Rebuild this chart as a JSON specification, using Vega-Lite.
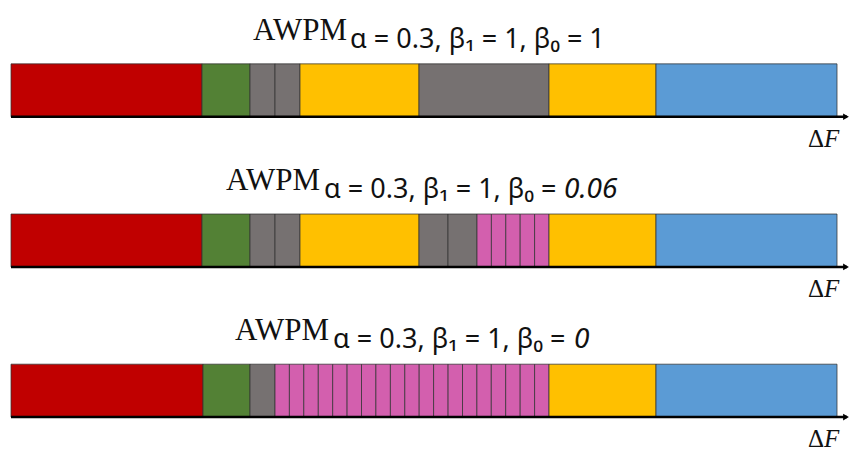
{
  "$schema": "https://vega.github.io/schema/vega-lite/v6.json",
  "width": 851,
  "height": 453,
  "autosize": {"type": "fit", "contains": "padding"},
  "padding": 0,
  "background": "white",
  "config": {"view": {"stroke": null}},
  "datasets": {
    "segments": [
      {"row": "b1", "start": 0, "end": 191, "kind": "A"},
      {"row": "b1", "start": 191, "end": 239, "kind": "B"},
      {"row": "b1", "start": 239, "end": 264, "kind": "C"},
      {"row": "b1", "start": 264, "end": 289, "kind": "C"},
      {"row": "b1", "start": 289, "end": 408, "kind": "D"},
      {"row": "b1", "start": 408, "end": 538, "kind": "C"},
      {"row": "b1", "start": 538, "end": 645, "kind": "D"},
      {"row": "b1", "start": 645, "end": 826, "kind": "F"},
      {"row": "b006", "start": 0, "end": 191, "kind": "A"},
      {"row": "b006", "start": 191, "end": 239, "kind": "B"},
      {"row": "b006", "start": 239, "end": 264, "kind": "C"},
      {"row": "b006", "start": 264, "end": 289, "kind": "C"},
      {"row": "b006", "start": 289, "end": 408, "kind": "D"},
      {"row": "b006", "start": 408, "end": 437, "kind": "C"},
      {"row": "b006", "start": 437, "end": 466, "kind": "C"},
      {"row": "b006", "start": 466, "end": 480.4, "kind": "E"},
      {"row": "b006", "start": 480.4, "end": 494.8, "kind": "E"},
      {"row": "b006", "start": 494.8, "end": 509.2, "kind": "E"},
      {"row": "b006", "start": 509.2, "end": 523.6, "kind": "E"},
      {"row": "b006", "start": 523.6, "end": 538, "kind": "E"},
      {"row": "b006", "start": 538, "end": 645, "kind": "D"},
      {"row": "b006", "start": 645, "end": 826, "kind": "F"},
      {"row": "b0", "start": 0, "end": 192, "kind": "A"},
      {"row": "b0", "start": 192, "end": 239, "kind": "B"},
      {"row": "b0", "start": 239, "end": 264, "kind": "C"},
      {"row": "b0", "start": 264, "end": 278.4, "kind": "E"},
      {"row": "b0", "start": 278.4, "end": 292.8, "kind": "E"},
      {"row": "b0", "start": 292.8, "end": 307.3, "kind": "E"},
      {"row": "b0", "start": 307.3, "end": 321.7, "kind": "E"},
      {"row": "b0", "start": 321.7, "end": 336.1, "kind": "E"},
      {"row": "b0", "start": 336.1, "end": 350.5, "kind": "E"},
      {"row": "b0", "start": 350.5, "end": 364.9, "kind": "E"},
      {"row": "b0", "start": 364.9, "end": 379.4, "kind": "E"},
      {"row": "b0", "start": 379.4, "end": 393.8, "kind": "E"},
      {"row": "b0", "start": 393.8, "end": 408.2, "kind": "E"},
      {"row": "b0", "start": 408.2, "end": 422.6, "kind": "E"},
      {"row": "b0", "start": 422.6, "end": 437.1, "kind": "E"},
      {"row": "b0", "start": 437.1, "end": 451.5, "kind": "E"},
      {"row": "b0", "start": 451.5, "end": 465.9, "kind": "E"},
      {"row": "b0", "start": 465.9, "end": 480.3, "kind": "E"},
      {"row": "b0", "start": 480.3, "end": 494.7, "kind": "E"},
      {"row": "b0", "start": 494.7, "end": 509.2, "kind": "E"},
      {"row": "b0", "start": 509.2, "end": 523.6, "kind": "E"},
      {"row": "b0", "start": 523.6, "end": 538, "kind": "E"},
      {"row": "b0", "start": 538, "end": 645, "kind": "D"},
      {"row": "b0", "start": 645, "end": 826, "kind": "F"}
    ],
    "rows": [{"row": "b1"}, {"row": "b006"}, {"row": "b0"}]
  },
  "layer": [
    {
      "data": {"name": "segments"},
      "mark": {"type": "rect", "stroke": "#333333", "strokeWidth": 1, "strokeOpacity": 0.75},
      "encoding": {
        "x": {"field": "start", "type": "quantitative", "axis": null, "scale": {"domain": [-11, 840], "nice": false, "zero": false}},
        "x2": {"field": "end"},
        "y": {"field": "row", "type": "nominal", "axis": null, "scale": {"domain": ["b1", "b006", "b0"], "paddingInner": 0.6478, "paddingOuter": 0.3289, "align": 0.6465}},
        "color": {"field": "kind", "type": "nominal", "legend": null, "scale": {"domain": ["A", "B", "C", "D", "E", "F"], "range": ["#C00000", "#538135", "#767171", "#FFC000", "#D35FAE", "#5B9BD5"]}}
      }
    },
    {
      "data": {"name": "rows"},
      "mark": {"type": "rule", "color": "#000000", "strokeWidth": 2.5},
      "encoding": {
        "x": {"datum": 0, "type": "quantitative"},
        "x2": {"datum": 836},
        "y": {"field": "row", "type": "nominal", "bandPosition": 1}
      }
    },
    {
      "data": {"name": "rows"},
      "mark": {"type": "point", "shape": "triangle-right", "filled": true, "color": "#000000", "opacity": 1, "size": 45},
      "encoding": {
        "x": {"datum": 835, "type": "quantitative"},
        "y": {"field": "row", "type": "nominal", "bandPosition": 1}
      }
    },
    {
      "data": {"name": "rows"},
      "mark": {"type": "text", "text": "Δ", "font": "Liberation Serif", "fontSize": 25, "align": "left", "baseline": "alphabetic", "dy": 30, "color": "#111111"},
      "encoding": {
        "x": {"datum": 797, "type": "quantitative"},
        "y": {"field": "row", "type": "nominal", "bandPosition": 1}
      }
    },
    {
      "data": {"name": "rows"},
      "mark": {"type": "text", "text": "F", "font": "Liberation Serif", "fontStyle": "italic", "fontSize": 25, "align": "left", "baseline": "alphabetic", "dy": 30, "color": "#111111"},
      "encoding": {
        "x": {"datum": 813, "type": "quantitative"},
        "y": {"field": "row", "type": "nominal", "bandPosition": 1}
      }
    },
    {
      "data": {"values": [{"row": "b1", "label": "AWPM"}]},
      "mark": {"type": "text", "font": "Liberation Serif", "fontSize": 31, "align": "right", "baseline": "alphabetic", "dy": -24, "color": "#111111"},
      "encoding": {
        "x": {"datum": 336, "type": "quantitative"},
        "y": {"field": "row", "type": "nominal", "bandPosition": 0},
        "text": {"field": "label"}
      }
    },
    {
      "data": {"values": [{"row": "b1", "label": "α = 0.3, β₁ = 1, β₀ = 1"}]},
      "mark": {"type": "text", "font": "Noto Sans", "fontSize": 27, "align": "left", "baseline": "alphabetic", "dy": -16, "color": "#111111"},
      "encoding": {
        "x": {"datum": 339, "type": "quantitative"},
        "y": {"field": "row", "type": "nominal", "bandPosition": 0},
        "text": {"field": "label"}
      }
    },
    {
      "data": {"values": [{"row": "b006", "label": "AWPM"}]},
      "mark": {"type": "text", "font": "Liberation Serif", "fontSize": 31, "align": "right", "baseline": "alphabetic", "dy": -24, "color": "#111111"},
      "encoding": {
        "x": {"datum": 309, "type": "quantitative"},
        "y": {"field": "row", "type": "nominal", "bandPosition": 0},
        "text": {"field": "label"}
      }
    },
    {
      "data": {"values": [{"row": "b006", "label": "α = 0.3, β₁ = 1, β₀ = "}]},
      "mark": {"type": "text", "font": "Noto Sans", "fontSize": 27, "align": "left", "baseline": "alphabetic", "dy": -16, "color": "#111111"},
      "encoding": {
        "x": {"datum": 313, "type": "quantitative"},
        "y": {"field": "row", "type": "nominal", "bandPosition": 0},
        "text": {"field": "label"}
      }
    },
    {
      "data": {"values": [{"row": "b006", "label": "0.06"}]},
      "mark": {"type": "text", "font": "Noto Sans", "fontStyle": "italic", "fontSize": 28, "align": "left", "baseline": "alphabetic", "dy": -16, "color": "#111111"},
      "encoding": {
        "x": {"datum": 553, "type": "quantitative"},
        "y": {"field": "row", "type": "nominal", "bandPosition": 0},
        "text": {"field": "label"}
      }
    },
    {
      "data": {"values": [{"row": "b0", "label": "AWPM"}]},
      "mark": {"type": "text", "font": "Liberation Serif", "fontSize": 31, "align": "right", "baseline": "alphabetic", "dy": -24, "color": "#111111"},
      "encoding": {
        "x": {"datum": 318, "type": "quantitative"},
        "y": {"field": "row", "type": "nominal", "bandPosition": 0},
        "text": {"field": "label"}
      }
    },
    {
      "data": {"values": [{"row": "b0", "label": "α = 0.3, β₁ = 1, β₀ = "}]},
      "mark": {"type": "text", "font": "Noto Sans", "fontSize": 27, "align": "left", "baseline": "alphabetic", "dy": -16, "color": "#111111"},
      "encoding": {
        "x": {"datum": 322, "type": "quantitative"},
        "y": {"field": "row", "type": "nominal", "bandPosition": 0},
        "text": {"field": "label"}
      }
    },
    {
      "data": {"values": [{"row": "b0", "label": "0"}]},
      "mark": {"type": "text", "font": "Noto Sans", "fontStyle": "italic", "fontSize": 28, "align": "left", "baseline": "alphabetic", "dy": -16, "color": "#111111"},
      "encoding": {
        "x": {"datum": 563, "type": "quantitative"},
        "y": {"field": "row", "type": "nominal", "bandPosition": 0},
        "text": {"field": "label"}
      }
    }
  ]
}
